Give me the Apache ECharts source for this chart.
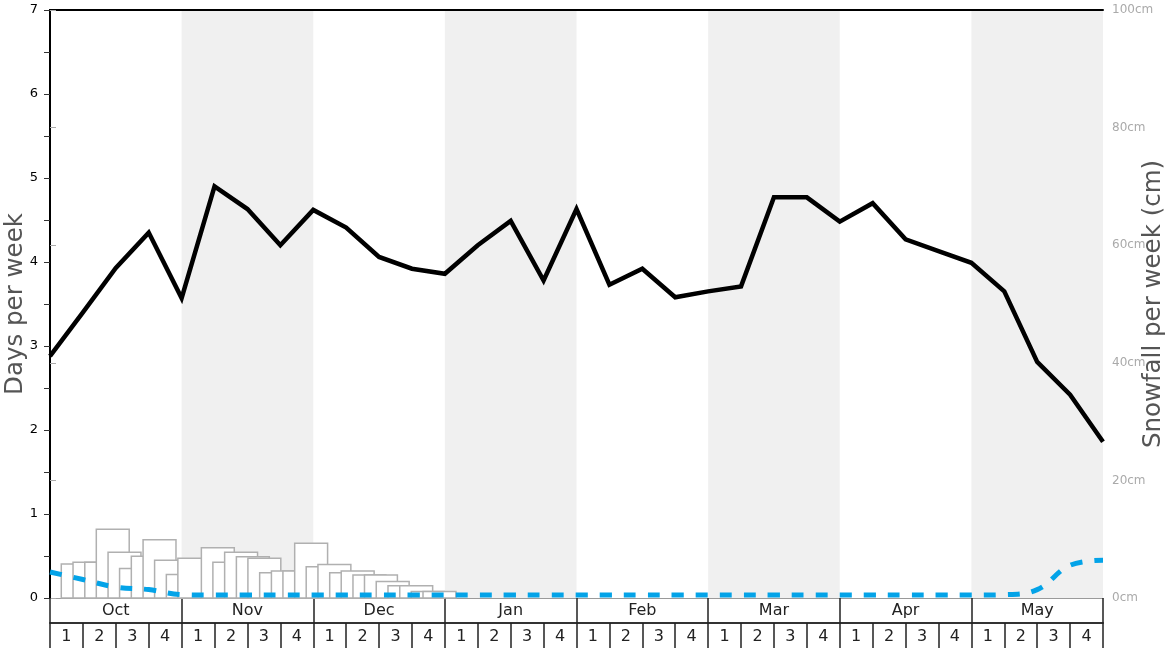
<!DOCTYPE html>
<html><head><meta charset="utf-8">
<script src="https://cdn.jsdelivr.net/npm/echarts@6/dist/echarts.min.js"></script>
<style>html,body{margin:0;padding:0;background:#fff}#c{width:1168px;height:648px}</style>
</head><body><div id="c"></div>
<script>
// ---- data ----
const months = ['Oct','Nov','Dec','Jan','Feb','Mar','Apr','May'];
const weekLabels = ['1','2','3','4','1','2','3','4','1','2','3','4','1','2','3','4',
                    '1','2','3','4','1','2','3','4','1','2','3','4','1','2','3','4'];
// days per week, sampled at each week boundary (33 points, Oct wk1 start .. May wk4 end)
const daysPerWeek = [2.88, 3.40, 3.93, 4.35, 3.57, 4.90, 4.63, 4.20, 4.62, 4.41, 4.06, 3.92,
                     3.86, 4.20, 4.49, 3.78, 4.63, 3.73, 3.92, 3.58, 3.65, 3.71, 4.77, 4.77,
                     4.48, 4.70, 4.27, 4.13, 3.99, 3.65, 2.81, 2.42, 1.86];
const secondLine = [0.31, 0.22, 0.13, 0.10, 0.04, 0.035, 0.035, 0.035, 0.035, 0.035, 0.035, 0.035,
                    0.035, 0.035, 0.035, 0.035, 0.035, 0.035, 0.035, 0.035, 0.035, 0.035, 0.035, 0.035,
                    0.035, 0.035, 0.035, 0.035, 0.035, 0.04, 0.10, 0.39, 0.45];
// weekly snowfall windows: start day (from Oct wk1) and total cm
const snowStartDay = [2.4, 4.9, 7.4, 9.85, 12.35, 14.8, 17.3, 19.8, 22.25, 24.75, 27.2,
                      32.2, 34.65, 37.15, 39.65, 42.1, 44.6, 47.1, 49.55, 52.05, 54.5, 57.0,
                      59.5, 61.95, 64.45, 66.9, 69.4, 71.9, 74.4, 76.85, 79.35];
const snowCm = [5.8, 6.1, 6.1, 11.7, 7.8, 5.0, 7.1, 9.9, 6.4, 4.0, 6.75,
                8.55, 6.1, 7.8, 7.0, 6.75, 4.3, 4.6, 4.6, 9.3, 5.3, 5.7,
                4.3, 4.6, 3.9, 3.9, 2.8, 2.1, 2.1, 1.1, 1.1];
const leftTicks = [0, 1, 2, 3, 4, 5, 6, 7];
const rightTicks = [0, 20, 40, 60, 80, 100];
const DAYS_IN_WEEK = 7;
const totalDays = weekLabels.length * DAYS_IN_WEEK;

const FONT = 'DejaVu Sans';
const chart = echarts.init(document.getElementById('c'), null, {renderer: 'canvas'});

const option = {
  animation: false,
  backgroundColor: '#fff',
  textStyle: {fontFamily: FONT},
  grid: {left: 50, right: 65, top: 10, bottom: 50, containLabel: false, outerBoundsMode: 'none'},
  xAxis: [
    {type: 'value', min: 0, max: totalDays, show: false},
    {type: 'category', data: months, position: 'bottom', boundaryGap: true,
     axisLine: {show: true, lineStyle: {color: '#9a9a9a', width: 1}},
     axisTick: {show: true, interval: 0, length: 25, lineStyle: {color: '#222', width: 1.5}},
     axisLabel: {fontSize: 16, color: '#222', margin: 5, fontFamily: FONT},
     splitArea: {show: true, interval: 0, areaStyle: {color: ['rgba(255,255,255,0)', '#f0f0f0']}},
     splitLine: {show: false}},
    {type: 'category', data: weekLabels, position: 'bottom', offset: 25, boundaryGap: true,
     axisLine: {show: true, lineStyle: {color: '#333', width: 2}},
     axisTick: {show: true, interval: 0, length: 25, lineStyle: {color: '#222', width: 1.5}},
     axisLabel: {fontSize: 16, color: '#222', margin: 6, interval: 0, fontFamily: FONT},
     splitLine: {show: false}},
    {type: 'value', position: 'top', min: 0, max: totalDays,
     axisLine: {show: true, lineStyle: {color: '#000', width: 2}},
     axisTick: {show: false}, axisLabel: {show: false}, splitLine: {show: false}}
  ],
  yAxis: [
    {type: 'value', min: leftTicks[0], max: leftTicks[leftTicks.length - 1], interval: 1, position: 'left',
     name: 'Days per week', nameLocation: 'middle', nameGap: 22, nameRotate: 90, nameMoveOverlap: false,
     nameTextStyle: {fontSize: 24.5, color: '#555', fontFamily: FONT},
     axisLine: {show: true, lineStyle: {color: '#000', width: 2}},
     axisTick: {show: true, length: 6, lineStyle: {color: '#333', width: 1}},
     minorTick: {show: true, splitNumber: 2, length: 6, lineStyle: {color: '#333', width: 1}},
     axisLabel: {fontSize: 13, color: '#000', margin: 12, fontFamily: FONT},
     splitLine: {show: false}},
    {type: 'value', min: rightTicks[0], max: rightTicks[rightTicks.length - 1], interval: 20, position: 'right',
     name: 'Snowfall per week (cm)', nameLocation: 'middle', nameGap: 38, nameRotate: 90, nameMoveOverlap: false,
     nameTextStyle: {fontSize: 24.5, color: '#555', fontFamily: FONT},
     axisLine: {show: true, lineStyle: {color: '#000', width: 2}},
     axisTick: {show: true, length: 6, lineStyle: {color: '#aaa', width: 1}},
     axisLabel: {fontSize: 12, color: '#aaa', margin: 9, formatter: '{value}cm', fontFamily: FONT},
     splitLine: {show: false}}
  ],
  series: [
    {type: 'custom', xAxisIndex: 0, yAxisIndex: 1, z: 2,
     data: snowStartDay.map((d, i) => [d, snowCm[i]]),
     renderItem: function (params, api) {
       const x0 = api.value(0), v = api.value(1);
       const p0 = api.coord([x0, v]);
       const p1 = api.coord([x0 + DAYS_IN_WEEK, 0]);
       return {type: 'rect',
               shape: {x: p0[0], y: p0[1], width: p1[0] - p0[0], height: p1[1] - p0[1]},
               style: {fill: '#fff', stroke: '#b0b0b0', lineWidth: 1.5}};
     }},
    {type: 'line', xAxisIndex: 0, yAxisIndex: 0, z: 3,
     data: secondLine.map((v, i) => [i * DAYS_IN_WEEK, v]),
     showSymbol: false, smooth: 0.4,
     lineStyle: {color: '#03a3e8', width: 5, type: [12, 12]}},
    {type: 'line', xAxisIndex: 0, yAxisIndex: 0, z: 4,
     data: daysPerWeek.map((v, i) => [i * DAYS_IN_WEEK, v]),
     showSymbol: false, smooth: false,
     lineStyle: {color: '#000', width: 4.5, join: 'miter'}}
  ]
};
chart.setOption(option);
</script>
</body></html>
